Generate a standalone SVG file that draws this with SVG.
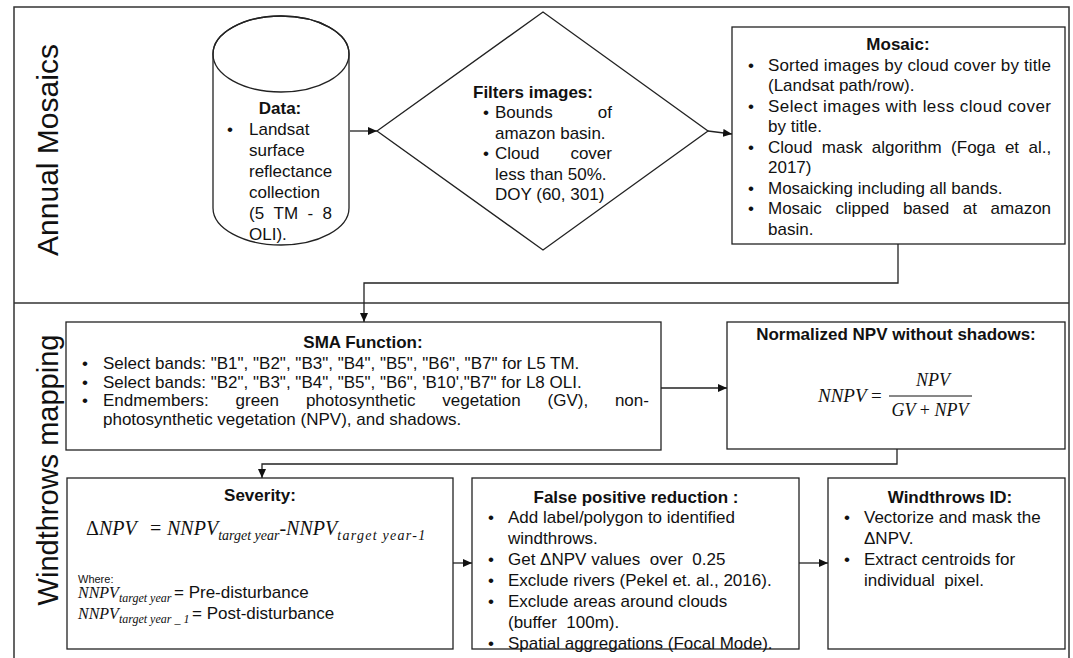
<svg xmlns="http://www.w3.org/2000/svg" width="1073" height="658" viewBox="0 0 1073 658">
<defs>
<style>
.t{font-family:"Liberation Sans",Arial,sans-serif;font-size:17px;fill:#111}
.b{font-weight:bold}
.lane{font-family:"Liberation Sans",Arial,sans-serif;font-size:30px;fill:#111}
.m{font-family:"Liberation Serif","Times New Roman",serif;font-style:italic;fill:#111}
.box{fill:#fff;stroke:#222;stroke-width:1.3}
.conn{fill:none;stroke:#222;stroke-width:1.3}
.frame{fill:none;stroke:#333;stroke-width:1.5}
</style>
<marker id="ah" markerUnits="userSpaceOnUse" markerWidth="9" markerHeight="8" refX="9" refY="4" orient="auto">
<path d="M0,0 L9,4 L0,8 Z" fill="#111"/>
</marker>
</defs>
<rect width="1073" height="658" fill="#fff"/>

<g id="frame">
<rect class="frame" x="14" y="7" width="1055" height="660"/>
<line class="frame" x1="14" y1="303" x2="1069" y2="303"/>
<text class="lane" transform="translate(58,150) rotate(-90)" text-anchor="middle">Annual Mosaics</text>
<text class="lane" transform="translate(58,470) rotate(-90)" text-anchor="middle" style="font-size:29px">Windthrows mapping</text>
</g>

<g id="connectors">
<line class="conn" x1="350" y1="131" x2="377" y2="131" marker-end="url(#ah)"/>
<line class="conn" x1="708" y1="131" x2="732" y2="134" marker-end="url(#ah)"/>
<polyline class="conn" points="898,244 898,283 364,283 364,322" marker-end="url(#ah)"/>
<line class="conn" x1="661" y1="388" x2="727" y2="388" marker-end="url(#ah)"/>
<polyline class="conn" points="897,449 897,464 262,464 262,478" marker-end="url(#ah)"/>
<line class="conn" x1="453" y1="563" x2="472" y2="563" marker-end="url(#ah)"/>
<line class="conn" x1="799" y1="563" x2="828" y2="563" marker-end="url(#ah)"/>
</g>

<g id="data">
<path class="box" d="M213,54 A68,38 0 0 1 349,54 L349,208 A68,37 0 0 1 213,208 Z"/>
<ellipse cx="281" cy="54" rx="68" ry="38" fill="none" stroke="#222" stroke-width="1.3"/>
<text class="t b" x="280" y="114" text-anchor="middle">Data:</text>
<text class="t" x="227" y="135">•</text>
<text class="t" x="249" y="135">Landsat</text>
<text class="t" x="249" y="156">surface</text>
<text class="t" x="249" y="177">reflectance</text>
<text class="t" x="249" y="198">collection</text>
<text class="t" y="219"><tspan x="249">(5</tspan><tspan x="273.5">TM</tspan><tspan x="307.4">-</tspan><tspan x="322.5">8</tspan></text>
<text class="t" x="249" y="240">OLI).</text>
</g>

<g id="filters">
<polygon class="box" points="377,131 543,12 708,131 543,250"/>
<text class="t b" x="473" y="98">Filters images:</text>
<text class="t" x="483" y="118">•</text>
<text class="t" y="118"><tspan x="495">Bounds</tspan><tspan x="597.8">of</tspan></text>
<text class="t" x="495" y="138.5">amazon basin.</text>
<text class="t" x="483" y="159">•</text>
<text class="t" y="159"><tspan x="495">Cloud</tspan><tspan x="570.4">cover</tspan></text>
<text class="t" x="495" y="179.5">less than 50%.</text>
<text class="t" x="495" y="200">DOY (60, 301)</text>
</g>

<g id="mosaic">
<rect class="box" x="732" y="27" width="333" height="217"/>
<text class="t b" x="898" y="50" text-anchor="middle">Mosaic:</text>
<text class="t" x="748" y="70.5">•</text>
<text class="t" x="768" y="70.5" textLength="283" lengthAdjust="spacing">Sorted images by cloud cover by title</text>
<text class="t" x="768" y="91">(Landsat path/row).</text>
<text class="t" x="748" y="111.5">•</text>
<text class="t" x="768" y="111.5" textLength="283" lengthAdjust="spacing">Select images with less cloud cover</text>
<text class="t" x="768" y="132">by title.</text>
<text class="t" x="748" y="152.5">•</text>
<text class="t" y="152.5"><tspan x="768">Cloud</tspan><tspan x="821.8">mask</tspan><tspan x="871.8">algorithm</tspan><tspan x="951.1">(Foga</tspan><tspan x="1004.9">et</tspan><tspan x="1028.5">al.,</tspan></text>
<text class="t" x="768" y="173">2017)</text>
<text class="t" x="748" y="193.5">•</text>
<text class="t" x="768" y="193.5">Mosaicking including all bands.</text>
<text class="t" x="748" y="214">•</text>
<text class="t" y="214"><tspan x="768">Mosaic</tspan><tspan x="835.4">clipped</tspan><tspan x="902.9">based</tspan><tspan x="962.8">at</tspan><tspan x="990.6">amazon</tspan></text>
<text class="t" x="768" y="234.5">basin.</text>
</g>

<g id="sma">
<rect class="box" x="66" y="322" width="595" height="128"/>
<text class="t b" x="363" y="348" text-anchor="middle">SMA Function:</text>
<text class="t" x="82" y="369">•</text>
<text class="t" x="103" y="369">Select bands: "B1", "B2", "B3", "B4", "B5", "B6", "B7" for L5 TM.</text>
<text class="t" x="82" y="387.5">•</text>
<text class="t" x="103" y="387.5">Select bands: "B2", "B3", "B4", "B5", "B6", 'B10',"B7" for L8 OLI.</text>
<text class="t" x="82" y="406">•</text>
<text class="t" y="406"><tspan x="103">Endmembers:</tspan><tspan x="235.6">green</tspan><tspan x="305.9">photosynthetic</tspan><tspan x="442.3">vegetation</tspan><tspan x="547.5">(GV),</tspan><tspan x="614.9">non-</tspan></text>
<text class="t" x="103" y="425">photosynthetic vegetation (NPV), and shadows.</text>
</g>

<g id="nnpv">
<rect class="box" x="727" y="322" width="338" height="127"/>
<text class="t b" x="896" y="340" text-anchor="middle">Normalized NPV without shadows:</text>
<text class="m" x="818" y="402" font-size="19">NNPV <tspan font-style="normal">=</tspan></text>
<text class="m" x="933" y="386" font-size="18" text-anchor="middle">NPV</text>
<line x1="889" y1="396" x2="972" y2="396" stroke="#111" stroke-width="1"/>
<text class="m" x="930" y="416" font-size="18" text-anchor="middle">GV <tspan font-style="normal">+</tspan> NPV</text>
</g>

<g id="severity">
<rect class="box" x="67" y="478" width="386" height="171"/>
<text class="t b" x="260" y="501" text-anchor="middle">Severity:</text>
<text class="m" y="535" font-size="20"><tspan x="86" font-style="normal">Δ</tspan><tspan>NPV</tspan><tspan x="150" font-style="normal">=</tspan><tspan x="167">NNPV</tspan><tspan font-size="14" dy="5">target year</tspan><tspan font-style="normal" dy="-5">-</tspan><tspan>NNPV</tspan><tspan font-size="14" dy="5" textLength="88" lengthAdjust="spacing">target year-1</tspan></text>
<text class="t" x="78" y="583" style="font-size:11px">Where:</text>
<text class="m" x="78" y="598" font-size="16">NNPV<tspan font-size="12" dy="4">target year</tspan></text>
<text class="t" x="174" y="598">= Pre-disturbance</text>
<text class="m" x="78" y="619" font-size="16">NNPV<tspan font-size="12" dy="4">target year _ 1</tspan></text>
<text class="t" x="192" y="619">= Post-disturbance</text>
</g>

<g id="falsepositive">
<rect class="box" x="472" y="478" width="327" height="171"/>
<text class="t b" x="636" y="503" text-anchor="middle">False positive reduction :</text>
<text class="t" x="488" y="523">•</text>
<text class="t" x="508" y="523">Add label/polygon to identified</text>
<text class="t" x="508" y="544">windthrows.</text>
<text class="t" x="488" y="565">•</text>
<text class="t" x="508" y="565" xml:space="preserve">Get ΔNPV values  over  0.25</text>
<text class="t" x="488" y="586">•</text>
<text class="t" x="508" y="586">Exclude rivers (Pekel et. al., 2016).</text>
<text class="t" x="488" y="607">•</text>
<text class="t" x="508" y="607">Exclude areas around clouds</text>
<text class="t" x="508" y="628" xml:space="preserve">(buffer  100m).</text>
<text class="t" x="488" y="648.5">•</text>
<text class="t" x="508" y="648.5">Spatial aggregations (Focal Mode).</text>
</g>

<g id="windthrowsid">
<rect class="box" x="828" y="478" width="237" height="171"/>
<text class="t b" x="950" y="503" text-anchor="middle">Windthrows ID:</text>
<text class="t" x="844" y="523">•</text>
<text class="t" x="864" y="523">Vectorize and mask the</text>
<text class="t" x="864" y="544">ΔNPV.</text>
<text class="t" x="844" y="565">•</text>
<text class="t" x="864" y="565">Extract centroids for</text>
<text class="t" x="864" y="586" xml:space="preserve">individual  pixel.</text>
</g>
</svg>
